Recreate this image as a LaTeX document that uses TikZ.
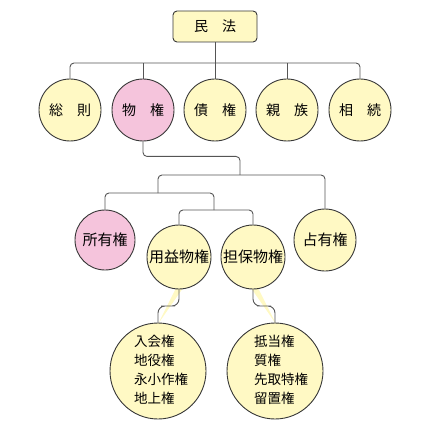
\documentclass[tikz,border=0pt]{standalone}
\usepackage{fontspec}
\newfontfamily\jp{Noto Sans CJK JP}
\definecolor{cyel}{RGB}{255,249,196}
\definecolor{cpink}{RGB}{245,196,220}
\definecolor{cline}{RGB}{85,85,85}
\definecolor{cedge}{RGB}{55,55,55}
\tikzset{
  circ/.style={circle,draw=cedge,line width=0.9pt,fill=cyel,inner sep=0pt,text=black},
  topc/.style={circ,minimum size=62pt,font=\jp\fontsize{14}{16}\selectfont},
  midc/.style={circ,minimum size=64pt,font=\jp\fontsize{15}{17}\selectfont},
  botc/.style={circ,minimum size=96pt},
  pinkc/.style={fill=cpink},
  conn/.style={draw=cline,line width=0.9pt,rounded corners=4pt},
  listtxt/.style={anchor=west,align=left,inner sep=0pt,font=\jp\fontsize{13.5}{19}\selectfont},
}
\begin{document}
\begin{tikzpicture}[x=1pt,y=-1pt]
\useasboundingbox (0,0) rectangle (430,430);
% yellow pointer wedges
\fill[cyel] (176,288) -- (183,288) -- (158,324) -- cycle;
\fill[cyel] (251,288) -- (258,288) -- (276,324) -- cycle;
% nodes
\node[draw=cedge,line width=0.9pt,fill=cyel,rounded corners=4pt,minimum width=84pt,minimum height=31pt,inner sep=0pt,font=\jp\fontsize{14}{16}\selectfont] (minpo) at (215,26.5) {民　法};
\node[topc] (soku) at (70,110) {総　則};
\node[topc,pinkc] (bukken) at (143,110) {物　権};
\node[topc] (saiken) at (215,110) {債　権};
\node[topc] (shinzoku) at (287,110) {親　族};
\node[topc] (souzoku) at (360,110) {相　続};
\node[midc,pinkc,minimum size=60pt] (shoyuu) at (105,240) {所有権};
\node[midc] (yoeki) at (179,257) {用益物権};
\node[midc] (tanpo) at (253,257) {担保物権};
\node[midc,minimum size=62pt] (senyuu) at (325,240) {占有権};
\node[botc] (yoekiL) at (158,371) {};
\node[botc] (tanpoL) at (275,371) {};
\node[listtxt] (yoekiT) at (134,370) {入会権\\地役権\\永小作権\\地上権};
\node[listtxt] (tanpoT) at (254,370) {抵当権\\質権\\先取特権\\留置権};
% connectors
\coordinate (b1) at (215,63);
\coordinate (j1) at (240,175);
\coordinate (j2) at (214,193);
\coordinate (j3) at (214,210);
\coordinate (j4) at (158,193);
\draw[conn] (soku.north) |- (b1) -| (souzoku.north);
\draw[conn] (minpo.south) -- (saiken.north);
\draw[conn] (bukken.north) -- (bukken.north |- b1);
\draw[conn] (shinzoku.north) -- (shinzoku.north |- b1);
\draw[conn] (bukken.south) -- ++(0,15) -| (j1);
\draw[conn] (j4) |- (j1 -| senyuu.north) -- (senyuu.north);
\draw[conn] (shoyuu.north) |- (j2) -- (j3);
\draw[conn] (yoeki.north) |- (j3 -| tanpo.north) -- (tanpo.north);
\draw[conn,rounded corners=7pt] (yoeki.south) |- (168,306) -| (yoekiL.north);
\draw[conn,rounded corners=7pt] (tanpo.south) |- (264,306) -| (tanpoL.north);
\end{tikzpicture}
\end{document}
